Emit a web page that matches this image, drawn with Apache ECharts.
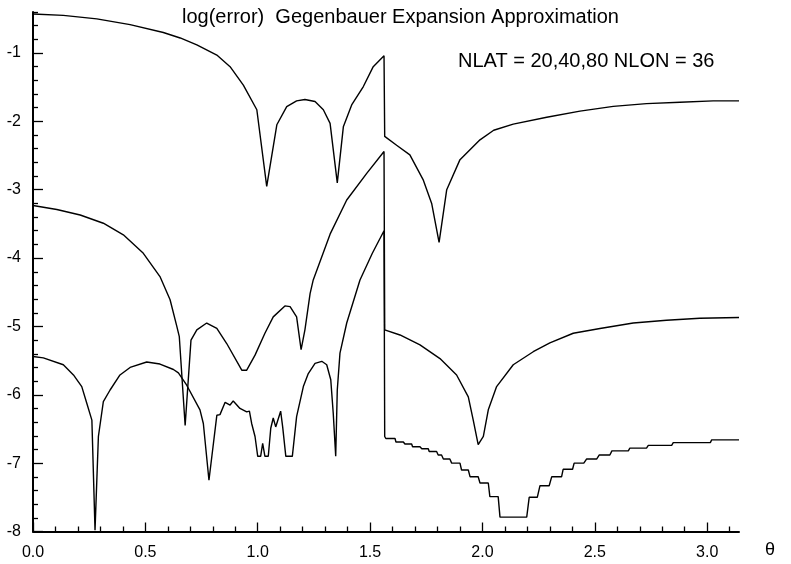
<!DOCTYPE html>
<html>
<head>
<meta charset="utf-8">
<script src="https://cdn.jsdelivr.net/npm/echarts@6/dist/echarts.min.js"></script>
<style>
html,body{margin:0;padding:0;background:#fff;}
#chart{width:791px;height:564px;}
</style>
</head>
<body>
<div id="chart"></div>
<script>
// NLAT = 20
const thetaN20 = [0, 0.135, 0.284, 0.432, 0.580, 0.655, 0.729, 0.818, 0.877, 0.936, 0.996, 1.040, 1.085, 1.129, 1.173, 1.210, 1.255, 1.292, 1.322, 1.354, 1.381, 1.418, 1.470, 1.514, 1.562, 1.565, 1.618, 1.677, 1.737, 1.774, 1.807, 1.841, 1.900, 1.989, 2.050, 2.137, 2.286, 2.434, 2.582, 2.730, 2.879, 3.027, 3.1416];
const errN20 = [-0.43, -0.45, -0.50, -0.585, -0.70, -0.78, -0.88, -1.03, -1.20, -1.47, -1.83, -2.95, -2.05, -1.785, -1.70, -1.68, -1.71, -1.83, -2.03, -2.90, -2.08, -1.76, -1.49, -1.20, -1.04, -2.22, -2.35, -2.49, -2.86, -3.20, -3.77, -3.00, -2.56, -2.27, -2.13, -2.04, -1.94, -1.85, -1.78, -1.74, -1.72, -1.70, -1.70];

// NLAT = 40
const thetaN40 = [0, 0.106, 0.21, 0.313, 0.402, 0.491, 0.565, 0.610, 0.640, 0.651, 0.677, 0.703, 0.729, 0.773, 0.818, 0.862, 0.929, 0.951, 0.988, 1.032, 1.069, 1.121, 1.144, 1.173, 1.193, 1.210, 1.233, 1.247, 1.322, 1.396, 1.485, 1.562, 1.565, 1.633, 1.722, 1.811, 1.885, 1.937, 1.959, 1.981, 2.004, 2.026, 2.063, 2.137, 2.226, 2.30, 2.404, 2.523, 2.671, 2.819, 2.967, 3.1416];
const errN40 = [-3.23, -3.29, -3.37, -3.49, -3.66, -3.93, -4.27, -4.61, -5.00, -5.15, -6.45, -5.20, -5.05, -4.95, -5.03, -5.25, -5.64, -5.64, -5.42, -5.10, -4.86, -4.70, -4.71, -4.86, -5.34, -5.05, -4.52, -4.32, -3.65, -3.15, -2.76, -2.44, -5.05, -5.125, -5.27, -5.47, -5.71, -6.03, -6.37, -6.73, -6.61, -6.22, -5.88, -5.56, -5.37, -5.24, -5.10, -5.03, -4.95, -4.91, -4.88, -4.87];

// NLAT = 80, northern part
const thetaN80a = [0, 0.046, 0.135, 0.180, 0.217, 0.239, 0.262, 0.276, 0.291, 0.313, 0.343, 0.387, 0.432, 0.506, 0.565, 0.625, 0.647, 0.684, 0.743, 0.758, 0.783, 0.818, 0.832, 0.855, 0.877, 0.891, 0.921, 0.951, 0.963, 0.973, 0.988, 1.000, 1.013, 1.022, 1.032, 1.047, 1.058, 1.069, 1.080, 1.102, 1.111, 1.125, 1.154, 1.173, 1.203, 1.225, 1.255, 1.285, 1.307, 1.325, 1.336, 1.347, 1.354, 1.366, 1.396, 1.455, 1.510, 1.562];
const errN80a = [-5.44, -5.46, -5.56, -5.71, -5.88, -6.12, -6.37, -7.98, -6.61, -6.10, -5.93, -5.71, -5.60, -5.52, -5.55, -5.63, -5.68, -5.86, -6.22, -6.42, -7.25, -6.30, -6.29, -6.11, -6.15, -6.09, -6.20, -6.25, -6.24, -6.42, -6.61, -6.90, -6.90, -6.71, -6.90, -6.90, -6.49, -6.34, -6.47, -6.24, -6.47, -6.90, -6.90, -6.32, -5.88, -5.69, -5.54, -5.51, -5.56, -5.78, -6.27, -6.90, -5.93, -5.39, -4.95, -4.32, -3.93, -3.60];
// NLAT = 80, southern part (stepped)
const thetaN80b = [1.565, 1.570, 1.611, 1.615, 1.648, 1.655, 1.685, 1.689, 1.722, 1.730, 1.759, 1.763, 1.796, 1.803, 1.818, 1.826, 1.855, 1.863, 1.900, 1.907, 1.937, 1.945, 1.981, 1.989, 2.026, 2.033, 2.070, 2.078, 2.197, 2.208, 2.244, 2.256, 2.297, 2.308, 2.352, 2.359, 2.401, 2.408, 2.451, 2.463, 2.508, 2.520, 2.567, 2.576, 2.649, 2.656, 2.730, 2.738, 2.842, 2.849, 3.014, 3.020, 3.1416];
const errN80b = [-6.61, -6.64, -6.64, -6.69, -6.69, -6.72, -6.72, -6.76, -6.76, -6.79, -6.79, -6.83, -6.83, -6.88, -6.88, -6.94, -6.94, -7.00, -7.00, -7.10, -7.10, -7.20, -7.20, -7.29, -7.29, -7.49, -7.49, -7.79, -7.79, -7.50, -7.50, -7.33, -7.33, -7.20, -7.20, -7.09, -7.09, -7.00, -7.00, -6.94, -6.94, -6.88, -6.88, -6.82, -6.82, -6.78, -6.78, -6.74, -6.74, -6.70, -6.70, -6.66, -6.66];

// ticks
const xMajorTicks = [0, 0.5, 1.0, 1.5, 2.0, 2.5, 3.0];
const xMinorTicks = [0.1,0.2,0.3,0.4,0.6,0.7,0.8,0.9,1.1,1.2,1.3,1.4,1.6,1.7,1.8,1.9,2.1,2.2,2.3,2.4,2.6,2.7,2.8,2.9,3.1];
const yMajorTicks = [-8, -7, -6, -5, -4, -3, -2, -1];
const yMinorTicks = [-7.8,-7.6,-7.4,-7.2,-6.8,-6.6,-6.4,-6.2,-5.8,-5.6,-5.4,-5.2,-4.8,-4.6,-4.4,-4.2,-3.8,-3.6,-3.4,-3.2,-2.8,-2.6,-2.4,-2.2,-1.8,-1.6,-1.4,-1.2,-0.8,-0.6,-0.4];

const titleText = 'log(error)  Gegenbauer Expansion Approximation';
const noteText = 'NLAT = 20,40,80 NLON = 36';
const xName = 'θ';

function zip(xs, ys) { return xs.map((x, i) => [x, ys[i]]); }

const FONT = '"Liberation Sans", Arial, Helvetica, sans-serif';
const X_MIN = 0, X_MAX = Math.PI, Y_MIN = -8, Y_MAX = -0.4;

const chart = echarts.init(document.getElementById('chart'), null, {renderer: 'canvas'});

function axisX(ticks, len, labels) {
  return {
    type: 'value', min: X_MIN, max: X_MAX, position: 'bottom', gridIndex: 0,
    axisLine: {show: labels, onZero: false, lineStyle: {color: '#000', width: 2}},
    axisTick: {show: true, inside: true, length: len, customValues: ticks, lineStyle: {color: '#000', width: 1.3}},
    axisLabel: labels ? {show: true, customValues: ticks, formatter: v => Number(v).toFixed(1), color: '#000', fontSize: 16, fontFamily: FONT, margin: 13} : {show: false},
    splitLine: {show: false}
  };
}
function axisY(ticks, len, labels) {
  return {
    type: 'value', min: Y_MIN, max: Y_MAX, position: 'left', gridIndex: 0,
    axisLine: {show: labels, onZero: false, lineStyle: {color: '#000', width: 2}},
    axisTick: {show: true, inside: true, length: len, customValues: ticks, lineStyle: {color: '#000', width: 1.3}},
    axisLabel: labels ? {show: true, customValues: ticks, formatter: v => String(Math.round(v)), color: '#000', fontSize: 16, fontFamily: FONT, margin: 12} : {show: false},
    splitLine: {show: false}
  };
}

const lineStyle = {color: '#000', width: 1.4};
function mkSeries(name, data) {
  return {name, type: 'line', xAxisIndex: 0, yAxisIndex: 0, data, showSymbol: false, symbol: 'none', smooth: false, lineStyle, silent: true, animation: false, clip: false};
}

chart.setOption({
  animation: false,
  backgroundColor: '#fff',
  grid: {left: 33, right: 52, top: 12, bottom: 32.5, containLabel: false, outerBoundsMode: 'none'},
  xAxis: [axisX(xMajorTicks, 9, true), axisX(xMinorTicks, 5, false)],
  yAxis: [axisY(yMajorTicks, 10, true), axisY(yMinorTicks, 5, false)],
  series: [
    mkSeries('NLAT=20', zip(thetaN20, errN20)),
    mkSeries('NLAT=40', zip(thetaN40, errN40)),
    mkSeries('NLAT=80', zip(thetaN80a, errN80a).concat(zip(thetaN80b, errN80b)))
  ],
  graphic: [
    {type: 'text', left: 182, top: 7, style: {text: titleText, font: '20px ' + FONT, fill: '#000'}},
    {type: 'text', left: 458, top: 51, style: {text: noteText, font: '20px ' + FONT, fill: '#000'}},
    {type: 'text', left: 765, top: 541, style: {text: xName, font: '18px ' + FONT, fill: '#000'}}
  ]
});
</script>
</body>
</html>
